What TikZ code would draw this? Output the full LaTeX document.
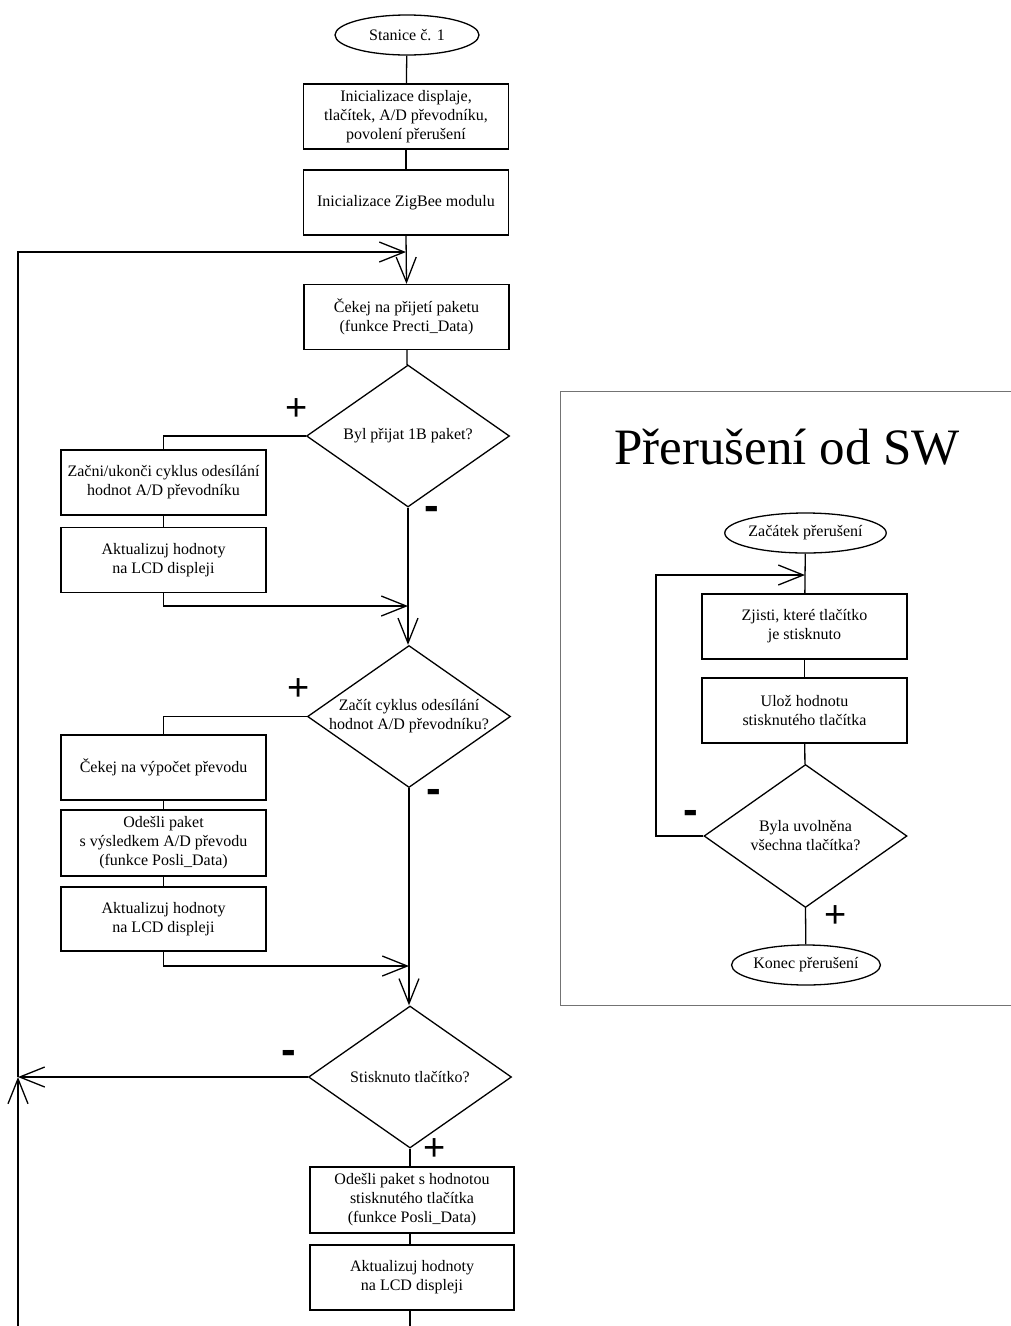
\documentclass[tikz,border=0pt]{standalone}
\usepackage{fontspec}
\setmainfont{Liberation Serif}
\newfontfamily\signfont{Liberation Sans}
\usetikzlibrary{shapes.geometric,arrows.meta}
\begin{document}
\begin{tikzpicture}[x=1pt,y=-1pt,
  every node/.style={font=\fontsize{16}{19}\selectfont},
  box/.style={draw, line width=1.3pt, rectangle, minimum width=205pt, minimum height=65pt, inner sep=0pt, align=center},
  term/.style={draw, line width=1.3pt, ellipse, minimum width=144pt, minimum height=40pt, inner sep=0pt},
  dia/.style={draw, line width=1.3pt, diamond, minimum width=203pt, minimum height=142pt, inner sep=0pt},
  dtext/.style={align=center, inner sep=0pt},
  conn/.style={line width=1.3pt},
  arr/.style={conn, -{Straight Barb[length=25pt,width=20pt,line width=1.3pt]}},
  plus/.style={font=\signfont\fontsize{38}{38}\selectfont, inner sep=0pt},
  minus/.style={font=\signfont\bfseries\fontsize{44}{44}\selectfont, inner sep=0pt},
  frame/.style={draw=black!55, line width=1pt},
]
\useasboundingbox (0,0) rectangle (1011,1326);

% ---------- main flow ----------
\node[term] (e1) at (407,35) {Stanice č. 1};
\node[box] (b1) at (406,116.5) {Inicializace displaje,\\tlačítek, A/D převodníku,\\povolení přerušení};
\node[box] (b2) at (406,202.5) {Inicializace ZigBee modulu};
\node[box] (b3) at (406.5,317) {Čekej na přijetí paketu\\(funkce Precti\_Data)};
\node[dia, label={[dtext]center:Byl přijat 1B paket?}] (d1) at (408,436) {};
\node[box] (b4) at (163.5,482.5) {Začni/ukonči cyklus odesílání\\hodnot A/D převodníku};
\node[box] (b5) at (163.5,560) {Aktualizuj hodnoty\\na LCD displeji};
\node[dia, label={[dtext]center:{Začít cyklus odesílání\\hodnot A/D převodníku?}}] (d2) at (409,716.5) {};
\node[box] (b6) at (163.5,767.5) {Čekej na výpočet převodu};
\node[box, minimum height=66pt] (b7) at (163.5,843) {Odešli paket\\s výsledkem A/D převodu\\(funkce Posli\_Data)};
\node[box, minimum height=64pt] (b8) at (163.5,919) {Aktualizuj hodnoty\\na LCD displeji};
\node[dia, label={[dtext]center:Stisknuto tlačítko?}] (d3) at (410,1077) {};
\node[box, minimum width=204pt, minimum height=66pt] (b9) at (412,1200) {Odešli paket s hodnotou\\stisknutého tlačítka\\(funkce Posli\_Data)};
\node[box, minimum width=204pt] (b10) at (412,1277.5) {Aktualizuj hodnoty\\na LCD displeji};

\coordinate (jtop) at (406,252);
\coordinate (j1) at (408,606);
\coordinate (j2) at (409,966);
\coordinate (lmid) at (18,1077);
\coordinate (lbot) at (18,1326);
\coordinate (bexit) at (410,1326);

\draw[conn] (e1) -- (b1);
\draw[conn] (b1) -- (b2);
\draw[arr] (b2.south) -- (b3.north);
\draw[conn] (b3) -- (d1);
\draw[conn] (d1.west) -| (b4.north);
\draw[conn] (b4) -- (b5);
\draw[arr] (b5.south) |- (j1);
\draw[arr] (d1.south) -- (d1.south |- d2.north);
\draw[conn] (d2.west) -| (b6.north);
\draw[conn] (b6) -- (b7);
\draw[conn] (b7) -- (b8);
\draw[arr] (b8.south) |- (j2);
\draw[arr] (d2.south) -- (d2.south |- d3.north);
\draw[arr] (d3.west) -- (lmid);
\draw[arr] (lbot) -- (lmid);
\draw[arr] (lmid) |- (jtop);
\draw[conn] (d3.south) -- (d3.south |- b9.north);
\draw[conn] (b9.south -| d3.south) -- (b10.north -| d3.south);
\draw[conn] (b10.south -| d3.south) -- (bexit);

\node[plus] (p1) at (297,410) {+};
\node[minus] (m1) at (432,513) {-};
\node[plus] (p2) at (299,690) {+};
\node[minus] (m2) at (434,796) {-};
\node[minus] (m3) at (289,1057) {-};
\node[plus] (p3) at (435,1150) {+};

% ---------- interrupt panel ----------
\coordinate (fr1) at (1012,391);
\coordinate (fr2) at (560,1005);
\draw[frame] (fr1) -| (fr2) -- ++(452,0);
\node[font=\fontsize{51}{55}\selectfont] (title) at (787,447) {Přerušení od SW};
\node[term] (e2) at (805.5,533) {Začátek přerušení};
\node[box] (bA) at (804.5,626.5) {Zjisti, které tlačítko\\je stisknuto};
\node[box] (bB) at (804.5,710.5) {Ulož hodnotu\\stisknutého tlačítka};
\node[dia, minimum height=143pt, label={[dtext]center:{Byla uvolněna\\všechna tlačítka?}}] (d4) at (805.5,836) {};
\node[term] (e3) at (806,965) {Konec přerušení};

\coordinate (rj) at (805,575);
\coordinate (rl) at (656,836);

\draw[conn] (e2) -- (bA);
\draw[conn] (bA) -- (bB);
\draw[conn] (bB) -- (d4);
\draw[arr] (d4.west) -- (rl) |- (rj);
\draw[conn] (d4.south) -- (e3);

\node[minus] (m4) at (691,817) {-};
\node[plus] (p4) at (836,917) {+};
\end{tikzpicture}
\end{document}
